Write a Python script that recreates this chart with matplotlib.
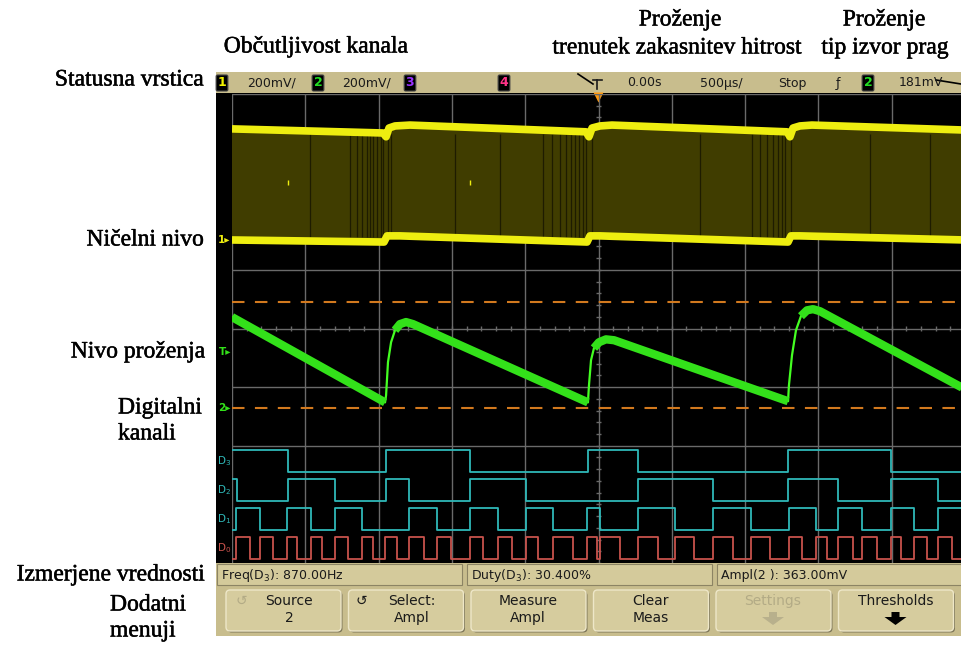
import numpy as np
import matplotlib.pyplot as plt
import matplotlib.patheffects as pe
from matplotlib.patches import Rectangle, FancyBboxPatch, Polygon

# ---- podatki, odcitani s slike (cas v us, napetost v mV) ----
# kanal 1 (rumen) - zgornja in spodnja ovojnica
ch1_top_t  = [-2500, -1470, -1449, -1429, -1388, -1286, -85, -65, -44, 10, 92, 1286, 1306, 1327, 1374, 1456, 2500]
ch1_top_mv = [379, 365, 352, 382, 389, 392, 369, 352, 382, 389, 392, 369, 352, 382, 389, 392, 375]
ch1_bot_t  = [-2500, -1463, -1442, -1354, -78, -58, 10, 1293, 1313, 1374, 2500]
ch1_bot_mv = [0, -7, 14, 14, -7, 14, 14, -7, 14, 14, 0]
ch1_stripes_t = [-1968, -1695, -1647, -1613, -1579, -1558, -1538, -1511, -1484, -1470, -1436, -1415,
                 -979, -672, -379, -317, -263, -222, -188, -160, -133, -106, -85, -44,
                 692, 1047, 1101, 1149, 1190, 1224, 1252, 1272, 1313, 1852, 2261]
ch1_spikes_t = [-2118, -877]
ch1_spike_mv = 195

# kanal 2 (zelen) - zagasti signal
ch2_t  = [-2500, -1456, -1449, -1436, -1415, -1388, -1354, -1313, -1265, -72, -65, -51, -31, 3, 51, 106,
          1293, 1299, 1320, 1347, 1381, 1422, 1463, 1511, 2500]
ch2_mv = [311, 20, 44, 157, 225, 266, 287, 294, 287, 20, 78, 164, 205, 225, 235, 232,
          24, 78, 181, 266, 314, 334, 338, 331, 65]
ch2_band = [1, 1, 0, 0, 0, 1, 1, 1, 1, 1, 0, 0, 1, 1, 1, 1,
            1, 0, 0, 0, 1, 1, 1, 1, 1]
ch2_top_mv = 363   # Ampl(2)
ch2_base_mv = 0

# digitalni kanali: zacetno stanje in casi fronte
dig_names = ['D3', 'D2', 'D1', 'D0']
dig_start = [1, 1, 0, 0]
dig_edges = [
    [-2118, -1449, -877, -72, 269, 1293, 1995],
    [-2466, -2118, -1797, -1449, -1293, -877, -495, 269, 781, 1293, 1634, 1995, 2316],
    [-2473, -2309, -2125, -1961, -1797, -1613, -1293, -1102, -877, -686, -495, -310, -78, 10,
     269, 522, 781, 1040, 1299, 1484, 1634, 1797, 1995, 2152, 2316],
    [-2473, -2377, -2309, -2220, -2125, -2057, -1961, -1886, -1797, -1709, -1613, -1538, -1456, -1374,
     -1293, -1190, -1102, -1006, -877, -788, -686, -590, -495, -413, -310, -174, -78, -10, 10, 147,
     269, 406, 522, 651, 781, 917, 1040, 1170, 1299, 1388, 1484, 1559, 1634, 1736, 1797, 1900,
     1995, 2063, 2152, 2241, 2316, 2411],
]

status_items = ['200mV/', '200mV/', '0.00s', '500µs/', 'Stop', '181mV']
meas_labels = ['Freq(D$_3$): 870.00Hz', 'Duty(D$_3$): 30.400%', 'Ampl(2 ): 363.00mV']
softkeys = ['Source\n2', 'Select:\nAmpl', 'Measure\nAmpl', 'Clear\nMeas', 'Settings', 'Thresholds']

# nastavitve zaslona
MV_PER_DIV = 200
CH1_GND = 2.49
CH2_GND = 5.36
DIG_LOW = [6.45, 6.945, 7.44, 7.935]
DIG_AMP = 0.375

YELLOW = '#eeee10'
GREEN = '#33e11a'
CYAN = '#2fb8b8'
RED = '#c8524c'
TAN = '#c8bd8d'
GRID = '#6a6a6a'

def ydiv(mv, gnd):
    return gnd - np.asarray(mv, dtype=float) / MV_PER_DIV

fig = plt.figure(figsize=(9.61, 6.45), dpi=100)

# okvir v pikslih za ozadje, napise in menije
ov = fig.add_axes([0, 0, 1, 1])
ov.set_xlim(0, 961)
ov.set_ylim(645, 0)
ov.set_axis_off()

ov.add_patch(Rectangle((216, 93), 745, 470, fc='black', ec='none'))
ov.add_patch(Rectangle((216, 72), 745, 21, fc=TAN, ec='none'))
ov.add_patch(Rectangle((216, 563), 745, 73, fc=TAN, ec='none'))

# statusna vrstica
def chbox(x, txt, col):
    ov.text(x, 83, txt, color=col, fontsize=9, fontweight='bold', ha='center', va='center',
            bbox=dict(boxstyle='round,pad=0.12', fc='black', ec='#444444', lw=0.8))

chbox(222, '1', '#f2f200')
ov.text(247, 83, status_items[0], fontsize=9, color='#1a1a1a', va='center')
chbox(318, '2', '#22dd22')
ov.text(342, 83, status_items[1], fontsize=9, color='#1a1a1a', va='center')
chbox(410, '3', '#9a33ff')
chbox(504, '4', '#ff3388')
ov.plot([593, 602], [80, 80], color='#1a1a1a', lw=1.2)
ov.plot([597, 597], [80, 89], color='#1a1a1a', lw=1.2)
ov.plot([578, 593], [74, 84], color='black', lw=1.2)
ov.text(627, 83, status_items[2], fontsize=9, color='#1a1a1a', va='center')
ov.text(700, 83, status_items[3], fontsize=9, color='#1a1a1a', va='center')
ov.text(778, 83, status_items[4], fontsize=9, color='#1a1a1a', va='center')
ov.text(838, 83, 'ƒ', fontsize=9, color='#1a1a1a', va='center', ha='center')
chbox(868, '2', '#22dd22')
ov.text(899, 83, status_items[5], fontsize=9, color='#1a1a1a', va='center')
ov.plot([936, 961], [80, 84], color='black', lw=1.2)
ov.plot(598, 97, marker='v', color='#ff9a10', ms=7, mec='none')

# oznake na levem robu zaslona
ov.text(218, 240, '1▸', color=YELLOW, fontsize=7.5, va='center', fontweight='bold')
ov.text(219, 352, 'T▸', color=GREEN, fontsize=7.5, va='center', fontweight='bold')
ov.text(218, 408, '2▸', color=GREEN, fontsize=7.5, va='center', fontweight='bold')
for i, nm in enumerate(dig_names):
    col = RED if nm == 'D0' else CYAN
    ov.text(217, 94 + (DIG_LOW[i] - 0.19) * 58.6, 'D$_%s$' % nm[1], color=col, fontsize=7.5, va='center')

# meritve
for i, lab in enumerate(meas_labels):
    x0 = 217 + i * 250
    ov.add_patch(Rectangle((x0, 564), 245, 21, fc='#d4ca9b', ec='#8c8464', lw=0.8))
    ov.text(x0 + 4, 575, lab, fontsize=9, color='#1a1a1a', va='center')

# dodatni meniji
for i, lab in enumerate(softkeys):
    x0 = 226 + i * 122.5
    ov.add_patch(FancyBboxPatch((x0 + 1.5, 591.5), 115, 41, boxstyle='round,pad=0,rounding_size=4',
                                fc='#7d7658', ec='none'))
    ov.add_patch(FancyBboxPatch((x0, 590), 115, 41, boxstyle='round,pad=0,rounding_size=4',
                                fc='#d6cc9e', ec='#eee7c8', lw=1.0))
    col = '#b3ab86' if lab == 'Settings' else '#1a1a1a'
    if '\n' in lab:
        l1, l2 = lab.split('\n')
        ov.text(x0 + 57 + (6 if i < 2 else 0), 601, l1, fontsize=10, color=col, ha='center', va='center')
        ov.text(x0 + 57 + (6 if i < 2 else 0), 618, l2, fontsize=10, color=col, ha='center', va='center')
    else:
        ov.text(x0 + 57, 601, lab, fontsize=10, color=col, ha='center', va='center')
        acol = '#b8b08c' if lab == 'Settings' else 'black'
        cx = x0 + 57
        ov.add_patch(Polygon([(cx - 4, 612), (cx + 4, 612), (cx + 4, 617), (cx + 11, 617),
                              (cx, 625), (cx - 11, 617), (cx - 4, 617)], closed=True, fc=acol, ec='none'))
ov.text(241, 601, '↺', fontsize=10, color='#b3ab86', ha='center', va='center')
ov.text(361, 601, '↺', fontsize=10, color='#1a1a1a', ha='center', va='center')

# napisi (levo in zgoraj)
sf = dict(family='Liberation Serif', fontsize=17, color='black', va='center',
          path_effects=[pe.withStroke(linewidth=0.35, foreground='black')])
ov.text(204, 80, 'Statusna vrstica', ha='right', **sf)
ov.text(316, 47, 'Občutljivost kanala', ha='center', **sf)
ov.text(680, 20, 'Proženje', ha='center', **sf)
ov.text(677, 48, 'trenutek zakasnitev hitrost', ha='center', **sf)
ov.text(884, 20, 'Proženje', ha='center', **sf)
ov.text(885, 48, 'tip izvor prag', ha='center', **sf)
ov.text(204, 240, 'Ničelni nivo', ha='right', **sf)
ov.text(205, 352, 'Nivo proženja', ha='right', **sf)
ov.text(118, 408, 'Digitalni', ha='left', **sf)
ov.text(118, 434, 'kanali', ha='left', **sf)
ov.text(205, 575, 'Izmerjene vrednosti', ha='right', **sf)
ov.text(110, 605, 'Dodatni', ha='left', **sf)
ov.text(110, 631, 'menuji', ha='left', **sf)

# zaslon osciloskopa: x v us, y v razdelkih
ax = fig.add_axes([232 / 961, (645 - 563) / 645, 733 / 961, 469 / 645])
ax.set_xlim(-2500, 2500)
ax.set_ylim(8, 0)
ax.set_axis_off()

for k in range(11):
    ax.axvline(-2500 + 500 * k, color=GRID, lw=1.0, zorder=1)
for k in range(7):
    ax.axhline(k, color=GRID, lw=1.0, zorder=1)
mt = np.arange(-2500, 2501, 100)
ax.vlines(mt, 3.95, 4.05, color=GRID, lw=1.0, zorder=1)
md = np.arange(0, 8.01, 0.2)
ax.hlines(md, -18, 18, color=GRID, lw=1.0, zorder=1)

# kanal 1
top_y = ydiv(ch1_top_mv, CH1_GND)
bot_y = ydiv(ch1_bot_mv, CH1_GND)
ax.fill(np.concatenate([ch1_top_t, ch1_bot_t[::-1]]), np.concatenate([top_y, bot_y[::-1]]),
        color='#403d00', lw=0, zorder=2)
ax.vlines(ch1_stripes_t, ydiv(360, CH1_GND), ydiv(10, CH1_GND), color='#1e1c00', lw=0.9, zorder=2)
ax.vlines(ch1_spikes_t, ydiv(ch1_spike_mv + 9, CH1_GND), ydiv(ch1_spike_mv - 9, CH1_GND),
          color=YELLOW, lw=1.0, zorder=3)
ax.plot(ch1_top_t, top_y, color=YELLOW, lw=5.5, solid_capstyle='butt', zorder=3)
ax.plot(ch1_bot_t, bot_y, color=YELLOW, lw=5.5, solid_capstyle='butt', zorder=3)

# pragovi meritve kanala 2
ax.axhline(ydiv(ch2_top_mv, CH2_GND), color='#d2791e', lw=1.5, dashes=(6, 5), zorder=2)
ax.axhline(ydiv(ch2_base_mv, CH2_GND), color='#d2791e', lw=1.5, dashes=(6, 5), zorder=2)

# kanal 2
ch2_y = ydiv(ch2_mv, CH2_GND)
band_y = np.where(np.array(ch2_band) == 1, ch2_y, np.nan)
ax.plot(ch2_t, ch2_y, color='#44ff22', lw=1.6, zorder=4)
ax.plot(ch2_t, band_y, color=GREEN, lw=6, solid_capstyle='butt', solid_joinstyle='round', zorder=4)

# digitalni kanali
for i, nm in enumerate(dig_names):
    xs = [-2500] + dig_edges[i] + [2500]
    lev = [(dig_start[i] + j) % 2 for j in range(len(xs))]
    ys = [DIG_LOW[i] - DIG_AMP * v for v in lev]
    col = RED if nm == 'D0' else CYAN
    ax.step(xs, ys, where='post', color=col, lw=1.3, zorder=3)

fig.savefig('out.png', dpi=100)
